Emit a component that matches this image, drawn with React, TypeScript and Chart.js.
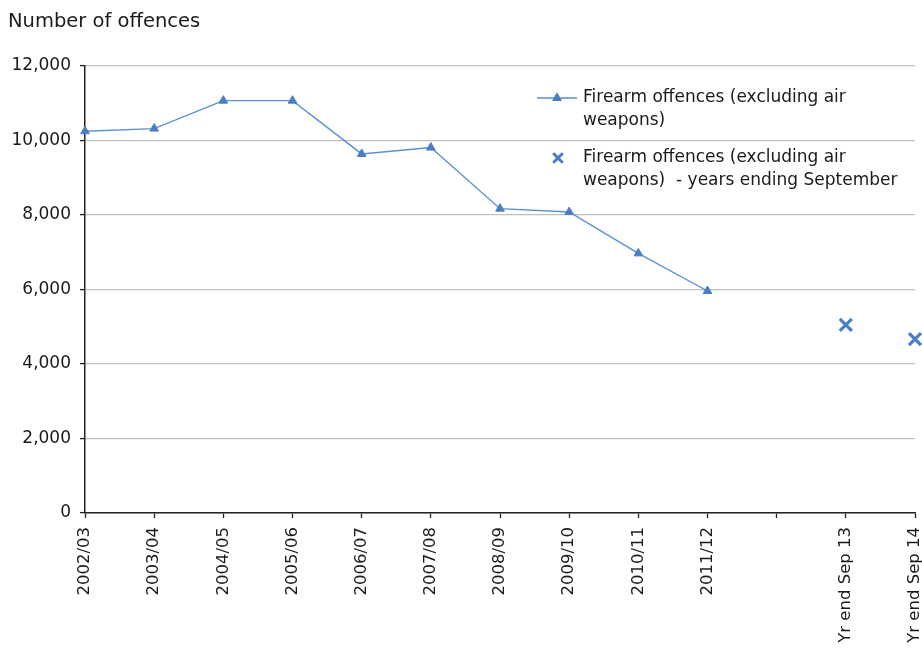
import React, { useEffect, useRef } from 'react';
import { Chart, registerables } from 'chart.js';

Chart.register(...registerables);

// Recorded firearm offences (excluding air weapons), England and Wales
const categories = [
  '2002/03', '2003/04', '2004/05', '2005/06', '2006/07', '2007/08',
  '2008/09', '2009/10', '2010/11', '2011/12', '', 'Yr end Sep 13', 'Yr end Sep 14',
];
const financialYearOffences = [
  10250, 10320, 11070, 11070, 9640, 9810, 8170, 8080, 6970, 5960, null, null, null,
];
const septemberYearOffences = [
  null, null, null, null, null, null, null, null, null, null, null, 5050, 4670,
];

const yAxisTitle = 'Number of offences';
const financialLegendLines = ['Firearm offences (excluding air', 'weapons)'];
const septemberLegendLines = ['Firearm offences (excluding air', 'weapons)  - years ending September'];

const FONT = '"DejaVu Sans", "Liberation Sans", Arial, sans-serif';
const TEXT = '#1a1a1a';
const LINE_BLUE = '#5b8fd5';
const MARK_BLUE = '#4a7ec4';

function drawTriangle(ctx: CanvasRenderingContext2D, x: number, y: number, r: number) {
  ctx.beginPath();
  for (let i = 0; i < 3; i++) {
    const a = (i * 2 * Math.PI) / 3;
    const px = x + Math.sin(a) * r;
    const py = y - Math.cos(a) * r;
    if (i === 0) ctx.moveTo(px, py);
    else ctx.lineTo(px, py);
  }
  ctx.closePath();
  ctx.fill();
  ctx.stroke();
}

function drawCross(ctx: CanvasRenderingContext2D, x: number, y: number, h: number) {
  ctx.beginPath();
  ctx.moveTo(x - h, y - h);
  ctx.lineTo(x + h, y + h);
  ctx.moveTo(x + h, y - h);
  ctx.lineTo(x - h, y + h);
  ctx.stroke();
}

// Axis title in the top-left corner and a two-entry legend inside the plot
const overlayPlugin = {
  id: 'overlay',
  afterDraw(chart: Chart) {
    const ctx = chart.ctx;
    ctx.save();
    ctx.fillStyle = TEXT;
    ctx.textAlign = 'left';
    ctx.textBaseline = 'alphabetic';
    ctx.font = `19.5px ${FONT}`;
    ctx.fillText(yAxisTitle, 8, 27);

    ctx.font = `17px ${FONT}`;
    ctx.textBaseline = 'middle';
    const textX = 583;
    const lineH = 23;

    // entry 1: line with triangle marker
    const y1 = 98;
    ctx.strokeStyle = LINE_BLUE;
    ctx.lineWidth = 1.3;
    ctx.beginPath();
    ctx.moveTo(537, y1);
    ctx.lineTo(577, y1);
    ctx.stroke();
    ctx.fillStyle = MARK_BLUE;
    ctx.strokeStyle = MARK_BLUE;
    ctx.lineWidth = 1;
    drawTriangle(ctx, 557, y1, 5);
    ctx.fillStyle = TEXT;
    financialLegendLines.forEach((t, i) => ctx.fillText(t, textX, y1 + i * lineH));

    // entry 2: cross marker only
    const y2 = 158;
    ctx.strokeStyle = MARK_BLUE;
    ctx.lineWidth = 3;
    drawCross(ctx, 558, y2, 4.8);
    ctx.fillStyle = TEXT;
    septemberLegendLines.forEach((t, i) => ctx.fillText(t, textX, y2 + i * lineH));
    ctx.restore();
  },
};

export default function App() {
  const canvasRef = useRef<HTMLCanvasElement | null>(null);

  useEffect(() => {
    const canvas = canvasRef.current;
    if (!canvas) return;
    const chart = new Chart(canvas, {
      type: 'line',
      data: {
        labels: categories,
        datasets: [
          {
            label: financialLegendLines.join(' '),
            data: financialYearOffences,
            borderColor: LINE_BLUE,
            borderWidth: 1.4,
            backgroundColor: MARK_BLUE,
            pointStyle: 'triangle',
            pointRadius: 5,
            pointBorderWidth: 1,
            pointBorderColor: MARK_BLUE,
            pointBackgroundColor: MARK_BLUE,
            spanGaps: false,
            tension: 0,
            clip: false,
          },
          {
            label: septemberLegendLines.join(' '),
            data: septemberYearOffences,
            showLine: false,
            borderColor: MARK_BLUE,
            backgroundColor: MARK_BLUE,
            pointStyle: 'crossRot',
            pointRadius: 8.5,
            pointBorderWidth: 3.2,
            pointBorderColor: MARK_BLUE,
            clip: false,
          },
        ],
      },
      options: {
        animation: false,
        responsive: false,
        devicePixelRatio: 1,
        layout: { autoPadding: false, padding: { top: 66, right: 7, bottom: 0, left: 0 } },
        plugins: {
          legend: { display: false },
          tooltip: { enabled: false },
          title: { display: false },
        },
        scales: {
          x: {
            offset: false,
            afterFit(scale: any) {
              scale.height = 137;
              scale.paddingLeft = 0;
              scale.paddingRight = 0;
            },
            grid: {
              drawOnChartArea: false,
              drawTicks: true,
              tickLength: 5,
              tickColor: '#222',
              tickWidth: 1.3,
            },
            border: { display: true, color: '#222', width: 1.5 },
            ticks: {
              autoSkip: false,
              maxRotation: 90,
              minRotation: 90,
              padding: 9,
              color: TEXT,
              font: { family: FONT, size: 16.5 },
            },
          },
          y: {
            min: 0,
            max: 12000,
            afterFit(scale: any) {
              scale.width = 85;
            },
            grid: {
              color: '#bfbfbf',
              lineWidth: 1.2,
              drawTicks: true,
              tickLength: 5,
              tickColor: '#222',
              tickWidth: 1.3,
            },
            border: { display: true, color: '#222', width: 1.5 },
            ticks: {
              stepSize: 2000,
              padding: 9,
              color: TEXT,
              font: { family: FONT, size: 17 },
              callback: (v: any) => Number(v).toLocaleString('en-GB'),
            },
          },
        },
      },
      plugins: [overlayPlugin],
    });
    return () => chart.destroy();
  }, []);

  return (
    <div style={{ position: 'absolute', left: 0, top: 0, width: 922, height: 650, background: '#fff' }}>
      <canvas ref={canvasRef} width={922} height={650} style={{ display: 'block' }} />
    </div>
  );
}
